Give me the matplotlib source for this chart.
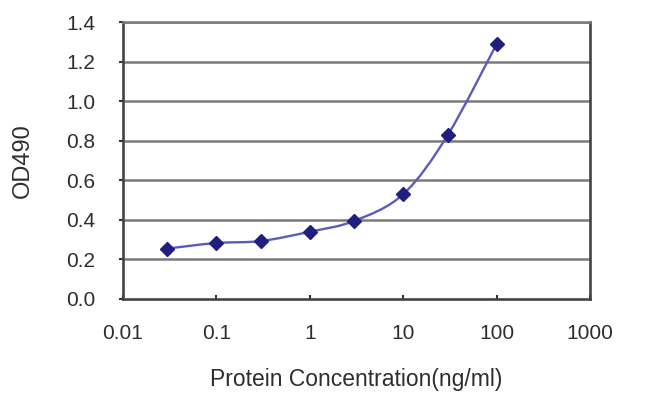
import numpy as np
import matplotlib
matplotlib.use('Agg')
import matplotlib.pyplot as plt
from matplotlib.path import Path
from matplotlib.patches import PathPatch
from matplotlib.ticker import FixedLocator, FixedFormatter, NullLocator

plt.rcParams['font.family'] = ['Liberation Sans', 'DejaVu Sans']

# data
conc = [0.03, 0.1, 0.3, 1, 3, 10, 30, 100]
od490 = [0.255, 0.283, 0.293, 0.34, 0.395, 0.53, 0.83, 1.29]

xticks = [0.01, 0.1, 1, 10, 100, 1000]
xticklabels = ['0.01', '0.1', '1', '10', '100', '1000']
yticks = [0.0, 0.2, 0.4, 0.6, 0.8, 1.0, 1.2, 1.4]

fig = plt.figure(figsize=(6.5, 4.09), dpi=100)
ax = fig.add_axes([0.189, 0.269, 0.719, 0.677])
ax.set_xscale('log')
ax.set_xlim(0.01, 1000)
ax.set_ylim(0, 1.4)

# horizontal grid
for yv in yticks[1:]:
    ax.axhline(yv, color='#7a7a7a', lw=1.8, zorder=1)

# smoothed line (Excel style bezier through the points, in log-x space)
lx = np.log10(conc)
ly = np.array(od490)
verts = [(conc[0], od490[0])]
codes = [Path.MOVETO]
n = len(lx)
for i in range(n - 1):
    p0 = (lx[max(i - 1, 0)], ly[max(i - 1, 0)])
    p1 = (lx[i], ly[i])
    p2 = (lx[i + 1], ly[i + 1])
    p3 = (lx[min(i + 2, n - 1)], ly[min(i + 2, n - 1)])
    c1 = (p1[0] + (p2[0] - p0[0]) / 6, p1[1] + (p2[1] - p0[1]) / 6)
    c2 = (p2[0] - (p3[0] - p1[0]) / 6, p2[1] - (p3[1] - p1[1]) / 6)
    for c in (c1, c2, p2):
        verts.append((10 ** c[0], c[1]))
        codes.append(Path.CURVE4)
ax.add_patch(PathPatch(Path(verts, codes), fill=False, edgecolor='#5c5cb8',
                       lw=1.7, zorder=2))

ax.plot(conc, od490, linestyle='none', marker='D', markersize=7.5,
        color='#1f1f80', zorder=3)

for s in ['left', 'right', 'bottom']:
    ax.spines[s].set_color('#444444')
    ax.spines[s].set_linewidth(1.9)
ax.spines['top'].set_color('#7a7a7a')
ax.spines['top'].set_linewidth(1.8)

ax.xaxis.set_major_locator(FixedLocator(xticks))
ax.xaxis.set_major_formatter(FixedFormatter(xticklabels))
ax.xaxis.set_minor_locator(NullLocator())
ax.set_yticks(yticks)
ax.set_yticklabels(['%.1f' % v for v in yticks])

ax.tick_params(axis='x', direction='in', length=3, width=1.5, color='#333333',
               labelsize=15, pad=18, labelcolor='#2e2e2e')
ax.tick_params(axis='y', direction='out', length=3, width=1.5, color='#333333',
               labelsize=15, pad=17, labelcolor='#2e2e2e')

ax.set_xlabel('Protein Concentration(ng/ml)', fontsize=16.5, color='#2e2e2e', labelpad=18)
ax.set_ylabel('OD490', fontsize=17, color='#2e2e2e', labelpad=23)

plt.savefig('out.png', dpi=100)
